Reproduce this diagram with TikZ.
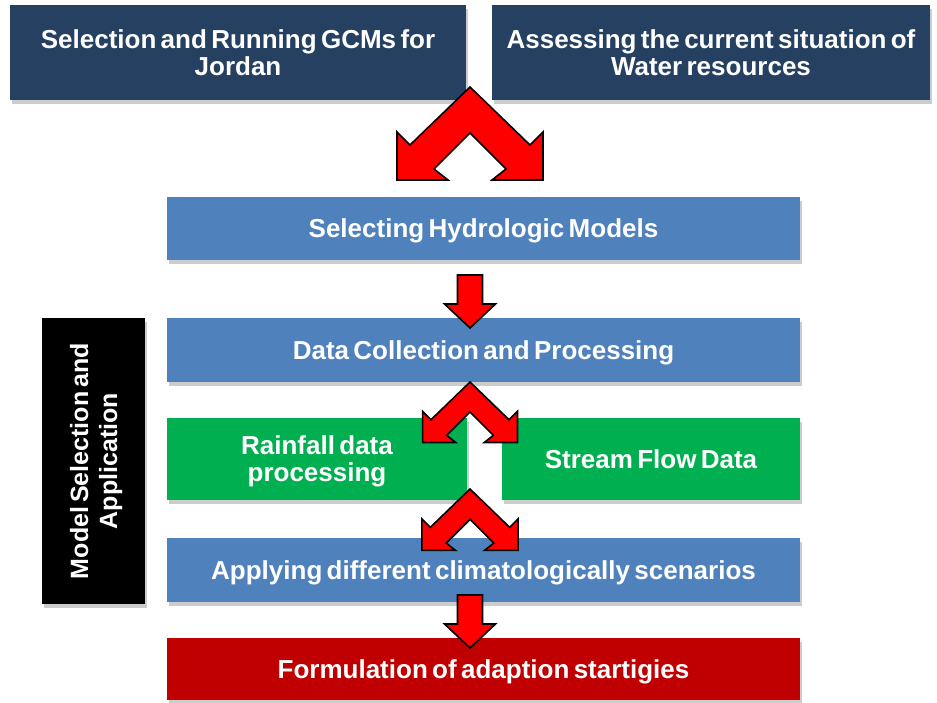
\documentclass[tikz,border=0pt]{standalone}
\usepackage{fontspec}
\setmainfont{Liberation Sans}[WordSpace=0.6]
\usetikzlibrary{shadows,calc}
\definecolor{navy}{RGB}{37,64,97}
\definecolor{stepblue}{RGB}{79,129,189}
\definecolor{stepgreen}{RGB}{0,176,80}
\definecolor{stepred}{RGB}{192,0,0}
\begin{document}
\begin{tikzpicture}[x=1pt,y=-1pt,
  box/.style={rectangle, inner sep=2pt, outer sep=0pt, text=white,
    font=\bfseries\fontsize{26}{27}\selectfont, align=center, text depth=0pt,
    general shadow={fill=black!20, shadow xshift=2pt, shadow yshift=-4pt}},
  arrowshape/.style={fill=red, draw=black, line width=1.6pt, line join=miter},
  downarrow/.pic={
    \path[arrowshape] (-12.5,0) -- (12.5,0) -- (12.5,29) -- (25.5,29)
      -- (0,53) -- (-25.5,29) -- (-12.5,29) -- cycle;},
  chev/.pic={
    \path[arrowshape] (0,0) -- (60,58) -- (73,45) -- (73,93) -- (22,93)
      -- (36,82) -- (0,46) -- (-36,82) -- (-22,93) -- (-73,93)
      -- (-73,45) -- (-60,58) -- cycle;}]
\useasboundingbox (0,0) rectangle (937,702);

% boxes
\node[box, fill=navy, minimum width=456pt, minimum height=95pt] (gcm) at (238,52.5)
  {Selection and Running GCMs for\\Jordan};
\node[box, fill=navy, minimum width=438pt, minimum height=95pt] (water) at (711,52.5)
  {Assessing the current situation of\\Water resources};
\node[box, fill=stepblue, minimum width=633pt, minimum height=63pt] (sel) at (483.5,228.5)
  {Selecting Hydrologic Models};
\node[box, fill=stepblue, minimum width=633pt, minimum height=64pt] (data) at (483.5,350)
  {Data Collection and Processing};
\node[box, fill=stepgreen, minimum width=300pt, minimum height=82pt] (rain) at (317,459)
  {Rainfall data\\processing};
\node[box, fill=stepgreen, minimum width=298pt, minimum height=82pt] (stream) at (651,459)
  {Stream Flow Data};
\node[box, fill=stepblue, minimum width=633pt, minimum height=64pt] (apply) at (483.5,570)
  {Applying different climatologically scenarios};
\node[box, fill=stepred, minimum width=633pt, minimum height=62pt] (form) at (483.5,669)
  {Formulation of adaption startigies};
\node[box, fill=black, minimum width=286pt, minimum height=103pt, rotate=90,
  font=\bfseries\fontsize{25}{29}\selectfont] (model) at (93.5,461)
  {Model Selection and\\Application};

% arrows between the stages
\pic at ([yshift=110pt]sel.north -| 470,0) {chev};
\pic at ([yshift=-15pt]sel.south -| 470,0) {downarrow};
\pic[scale=0.65] at (data.south -| 470,0) {chev};
\pic[scale=0.66] at ([yshift=11pt]rain.south -| 470,0) {chev};
\pic at ([yshift=7pt]apply.south -| 470,0) {downarrow};
\end{tikzpicture}
\end{document}
